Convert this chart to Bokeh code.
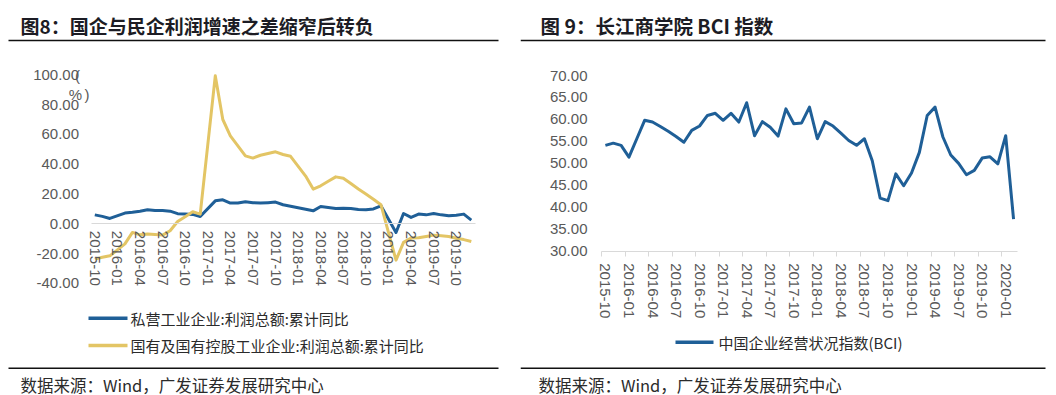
from bokeh.plotting import figure
from bokeh.layouts import row
from bokeh.models import Range1d, FixedTicker, NumeralTickFormatter, Label, BoxAnnotation
from bokeh.embed import file_html
from bokeh.resources import INLINE

# ---------------- data ----------------
# Fig 8: cumulative YoY profit growth (%), January not published
left_months = ["2015-10", "2015-11", "2015-12",
               "2016-02", "2016-03", "2016-04", "2016-05", "2016-06", "2016-07", "2016-08",
               "2016-09", "2016-10", "2016-11", "2016-12",
               "2017-02", "2017-03", "2017-04", "2017-05", "2017-06", "2017-07", "2017-08",
               "2017-09", "2017-10", "2017-11", "2017-12",
               "2018-02", "2018-03", "2018-04", "2018-05", "2018-06", "2018-07", "2018-08",
               "2018-09", "2018-10", "2018-11", "2018-12",
               "2019-02", "2019-03", "2019-04", "2019-05", "2019-06", "2019-07", "2019-08",
               "2019-09", "2019-10", "2019-11", "2019-12"]
private_profit = [6.0, 5.0, 3.6,
                  7.2, 7.7, 8.4, 9.4, 9.0, 8.9, 8.5, 6.8, 6.5, 6.3, 4.9,
                  15.4, 16.1, 13.9, 14.0, 14.8, 14.2, 13.9, 14.2, 14.6, 12.8, 11.8,
                  9.8, 8.7, 11.6, 11.0, 10.3, 10.5, 10.3, 9.6, 9.4, 10.0, 12.1,
                  -5.8, 6.9, 4.3, 6.5, 6.0, 6.9, 6.0, 5.4, 5.8, 6.5, 2.5]
soe_profit = [-23.7, -22.5, -21.5,
              -13.5, -5.8, -7.4, -6.8, -7.2, -7.6, -4.7, 1.5, 4.7, 8.1, 6.5,
              99.3, 70.0, 59.0, 52.3, 45.6, 44.1, 46.0, 47.2, 48.3, 46.5, 45.3,
              32.0, 23.3, 25.5, 28.5, 31.5, 30.6, 27.0, 23.3, 20.0, 16.5, 12.8,
              -24.4, -12.5, -9.6, -9.4, -8.5, -7.6, -8.0, -8.5, -9.7, -10.6, -11.9]
left_tick_labels = ["2015-10", "2016-01", "2016-04", "2016-07", "2016-10", "2017-01",
                    "2017-04", "2017-07", "2017-10", "2018-01", "2018-04", "2018-07",
                    "2018-10", "2019-01", "2019-04", "2019-07", "2019-10"]
left_yticks = [-40, -20, 0, 20, 40, 60, 80, 100]
left_last_month = "2019-12"

# Fig 9: CKGSB BCI
bci_months = ["2015-10", "2015-11", "2015-12",
              "2016-01", "2016-02", "2016-03", "2016-04", "2016-05", "2016-06",
              "2016-07", "2016-08", "2016-09", "2016-10", "2016-11", "2016-12",
              "2017-01", "2017-02", "2017-03", "2017-04", "2017-05", "2017-06",
              "2017-07", "2017-08", "2017-09", "2017-10", "2017-11", "2017-12",
              "2018-01", "2018-02", "2018-03", "2018-04", "2018-05", "2018-06",
              "2018-07", "2018-08", "2018-09", "2018-10", "2018-11", "2018-12",
              "2019-01", "2019-02", "2019-03", "2019-04", "2019-05", "2019-06",
              "2019-07", "2019-08", "2019-09", "2019-10", "2019-11", "2019-12",
              "2020-01", "2020-02"]
bci_values = [54.1, 54.6, 54.1,
              51.4, 55.6, 59.8, 59.4, 58.4, 57.3, 56.1, 54.8, 57.5, 58.5, 60.9, 61.4,
              59.8, 61.4, 59.4, 63.8, 56.3, 59.5, 58.2, 56.2, 62.4, 59.0, 59.2, 62.8,
              55.6, 59.5, 58.5, 56.9, 55.2, 54.1, 55.6, 50.6, 42.1, 41.5, 47.6, 44.9,
              47.8, 52.5, 60.9, 62.8, 56.0, 51.9, 50.0, 47.4, 48.4, 51.2, 51.5, 49.9,
              56.3, 37.3]
right_tick_labels = ["2015-10", "2016-01", "2016-04", "2016-07", "2016-10", "2017-01",
                     "2017-04", "2017-07", "2017-10", "2018-01", "2018-04", "2018-07",
                     "2018-10", "2019-01", "2019-04", "2019-07", "2019-10", "2020-01"]
right_yticks = [30, 35, 40, 45, 50, 55, 60, 65, 70]

left_title = "图8：国企与民企利润增速之差缩窄后转负"
right_title = "图 9：长江商学院 BCI 指数"
left_legend = ["私营工业企业:利润总额:累计同比", "国有及国有控股工业企业:利润总额:累计同比"]
right_legend = "中国企业经营状况指数(BCI)"
source_text = "数据来源：Wind，广发证券发展研究中心"

# ---------------- style ----------------
BLUE = "#1F5F97"
GOLD = "#E3C565"
AXIS_GREY = "#D9D9D9"
LABEL_GREY = "#595959"
TEXT_DARK = "#2B2B2B"
TITLE_COL = "#1C1C24"
CJK = "Noto Sans CJK SC"
LATIN = "Liberation Sans"
H = 395


def midx(s, start="2015-10"):
    y, m = s.split("-")
    y0, m0 = start.split("-")
    return (int(y) - int(y0)) * 12 + int(m) - int(m0)


def make_fig(width, x0px, dxpx, y_at, y_val, dypx):
    """Frame covers the whole canvas; data index 0 sits at pixel x0px,
    dxpx pixels per month; value y_val sits at pixel y_at, dypx pixels per unit."""
    xr = Range1d(-x0px / dxpx, (width - x0px) / dxpx)
    yr = Range1d(y_val - (H - y_at) / dypx, y_val + y_at / dypx)
    p = figure(width=width, height=H, output_backend="svg", toolbar_location=None,
               x_range=xr, y_range=yr,
               min_border_left=0, min_border_right=0, min_border_top=0, min_border_bottom=0)
    p.outline_line_color = None
    p.xgrid.visible = False
    p.ygrid.visible = False
    p.background_fill_color = "white"
    p.border_fill_color = "white"
    g = dict(W=width)
    return p, g


def px2x(p, g, px):
    return p.x_range.start + px * (p.x_range.end - p.x_range.start) / g["W"]


def py2y(p, g, py):
    return p.y_range.end - py * (p.y_range.end - p.y_range.start) / H


def add_text(p, g, px, py, text, size, color=TEXT_DARK, font=CJK, bold=False, align="left"):
    p.add_layout(Label(x=px2x(p, g, px), y=py2y(p, g, py),
                       text=text, text_font=font, text_font_size=f"{size}px",
                       text_color=color, text_font_style="bold" if bold else "normal",
                       text_align=align, text_baseline="middle"))


def add_rule(p, g, x0, x1, yc, thick, color):
    p.add_layout(BoxAnnotation(left=px2x(p, g, x0), right=px2x(p, g, x1),
                               top=py2y(p, g, yc - thick / 2), bottom=py2y(p, g, yc + thick / 2),
                               fill_color=color, fill_alpha=1.0, line_color=None))


def style_yaxis(ax, ticks, standoff, loc):
    ax.fixed_location = loc
    ax.ticker = FixedTicker(ticks=ticks)
    ax.formatter = NumeralTickFormatter(format="0.00")
    ax.axis_line_color = None
    ax.major_tick_line_color = None
    ax.minor_tick_line_color = None
    ax.major_tick_out = 0
    ax.major_tick_in = 0
    ax.major_label_standoff = standoff
    ax.major_label_text_font = LATIN
    ax.major_label_text_font_size = "15px"
    ax.major_label_text_color = LABEL_GREY


def style_xaxis(ax, loc, bounds, labels, tick_marks):
    ax.fixed_location = loc
    ax.bounds = bounds
    t = [midx(s) for s in labels]
    if tick_marks:
        ax.ticker = FixedTicker(ticks=t, minor_ticks=[v - 0.5 for v in t])
        ax.minor_tick_line_color = AXIS_GREY
        ax.minor_tick_out = 5
        ax.minor_tick_in = 0
    else:
        ax.ticker = FixedTicker(ticks=t)
        ax.minor_tick_line_color = None
    ax.major_label_overrides = {v: s for v, s in zip(t, labels)}
    ax.major_label_orientation = "vertical"
    ax.axis_line_color = AXIS_GREY
    ax.axis_line_width = 1
    ax.major_tick_line_color = None
    ax.major_tick_out = 0
    ax.major_tick_in = 0
    ax.major_label_standoff = 7
    ax.major_label_text_font = LATIN
    ax.major_label_text_font_size = "15px"
    ax.major_label_text_color = LABEL_GREY


# ---------------- left chart (page x 0..520) ----------------
n_left = midx(left_last_month) + 1
p1, g1 = make_fig(520, 94.3, 7.53, 223.3, 0, 1.49)
lx = [midx(m) for m in left_months]
p1.line(lx, private_profit, line_width=3, line_color=BLUE, line_join="round")
p1.line(lx, soe_profit, line_width=3, line_color=GOLD, line_join="round")

style_yaxis(p1.yaxis[0], left_yticks, 12, -0.5)
style_xaxis(p1.xaxis[0], 0, (-0.5, n_left - 0.5), left_tick_labels, False)

add_text(p1, g1, 20, 25, left_title, 19, TITLE_COL, bold=True)
add_rule(p1, g1, 8, 498, 40, 1.6, "#111111")
add_text(p1, g1, 77, 75, "(", 15, LABEL_GREY, LATIN, align="center")
add_text(p1, g1, 75, 94, "%", 15, LABEL_GREY, LATIN, align="center")
add_text(p1, g1, 86.5, 94, ")", 15, LABEL_GREY, LATIN, align="center")
add_rule(p1, g1, 88, 127, 317.7, 3.5, BLUE)
add_text(p1, g1, 130, 318, left_legend[0], 15)
add_rule(p1, g1, 88, 127, 345, 3.5, GOLD)
add_text(p1, g1, 130, 345, left_legend[1], 15)
add_rule(p1, g1, 8, 498, 367.7, 1.6, "#111111")
add_text(p1, g1, 20, 384, source_text, 16.5)

# ---------------- right chart (page x 520..1056) ----------------
n_right = len(bci_months)
p2, g2 = make_fig(536, 84.9, 7.849, 250.7, 30, 4.3925)
rx = [midx(m) for m in bci_months]
p2.line(rx, bci_values, line_width=3, line_color=BLUE, line_join="round")

style_yaxis(p2.yaxis[0], right_yticks, 14, -0.5)
style_xaxis(p2.xaxis[0], 30, (-0.5, n_right - 0.5), right_tick_labels, True)

add_text(p2, g2, 20, 25, right_title, 19.5, TITLE_COL, bold=True)
add_rule(p2, g2, 0, 525, 40, 1.6, "#111111")
add_rule(p2, g2, 155, 193, 341.7, 3.5, BLUE)
add_text(p2, g2, 198, 342, right_legend, 15)
add_rule(p2, g2, 0, 525, 367.7, 1.6, "#111111")
add_text(p2, g2, 18, 384, source_text, 16.5)

layout = row(p1, p2)
open("out.html", "w").write(file_html(layout, INLINE))
